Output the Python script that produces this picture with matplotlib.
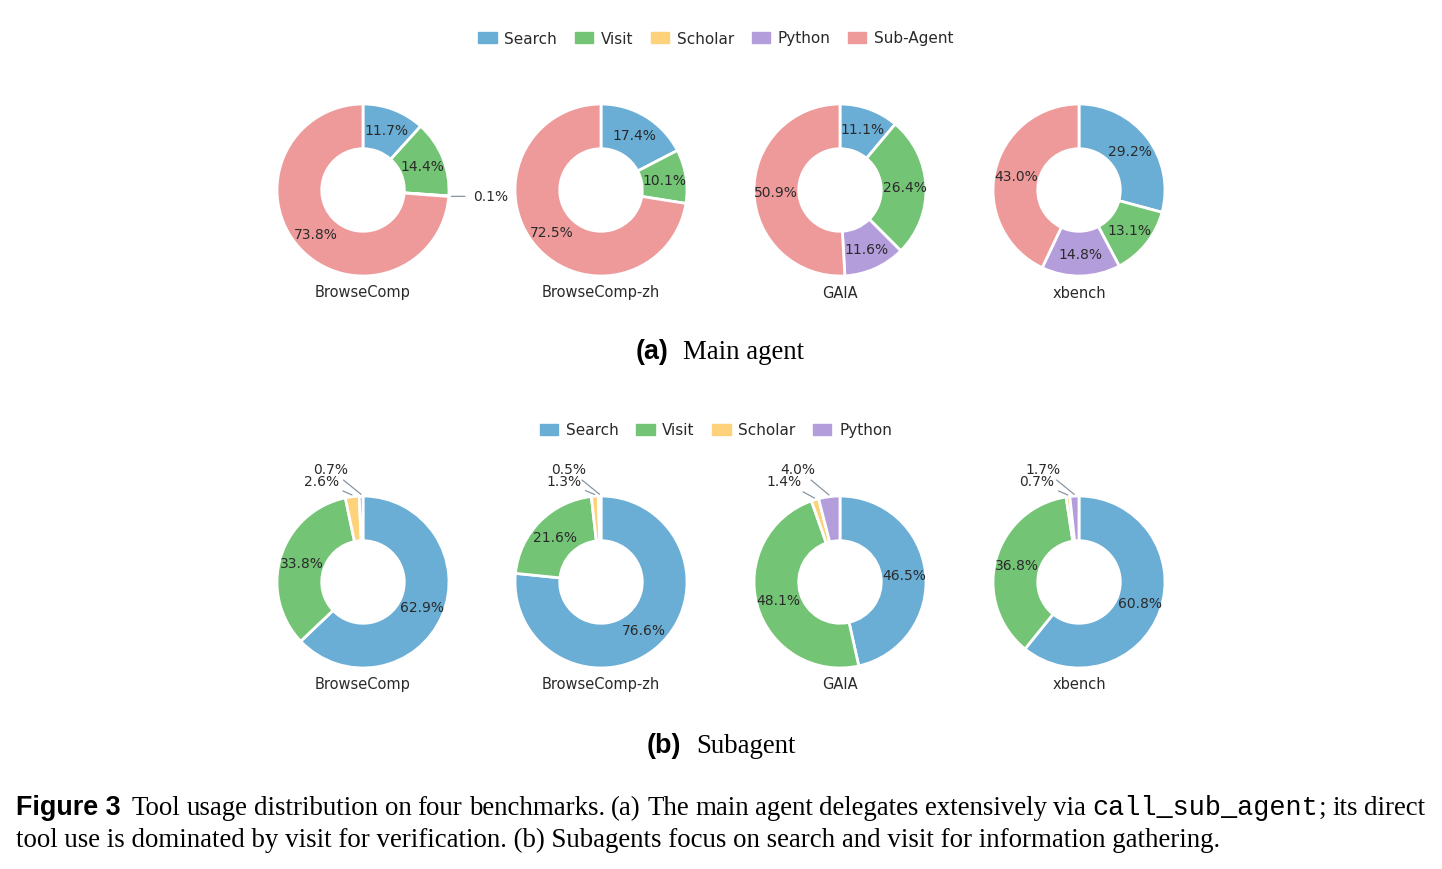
import numpy as np
import matplotlib
matplotlib.use("Agg")
import matplotlib.pyplot as plt
from matplotlib.patches import Patch

W, H = 1442, 870

tools_main = ["Search", "Visit", "Scholar", "Python", "Sub-Agent"]
tools_sub = ["Search", "Visit", "Scholar", "Python"]
colors = {"Search": "#6aaed6", "Visit": "#74c476", "Scholar": "#fdd27b",
          "Python": "#b49ddb", "Sub-Agent": "#ee9a9a"}
benchmarks = ["BrowseComp", "BrowseComp-zh", "GAIA", "xbench"]

# percentages, order = tools list
main_share = {
    "BrowseComp":    [11.7, 14.4, 0.1, 0.0, 73.8],
    "BrowseComp-zh": [17.4, 10.1, 0.0, 0.0, 72.5],
    "GAIA":          [11.1, 26.4, 0.0, 11.6, 50.9],
    "xbench":        [29.2, 13.1, 0.0, 14.8, 43.0],
}
sub_share = {
    "BrowseComp":    [62.9, 33.8, 2.6, 0.7],
    "BrowseComp-zh": [76.6, 21.6, 1.3, 0.5],
    "GAIA":          [46.5, 48.1, 1.4, 4.0],
    "xbench":        [60.8, 36.8, 0.7, 1.7],
}

fig = plt.figure(figsize=(W / 100, H / 100), dpi=100)
txt = "#2a2a2a"
line_c = "#8796a3"


def fx(x):
    return x / W


def fy(y):
    return 1 - y / H


def donut(cx, cy, vals, names):
    R = 86  # px for radius 1
    L = 1.5
    ax = fig.add_axes([fx(cx - R * L), fy(cy + R * L), 2 * R * L / W, 2 * R * L / H])
    keep = [(v, n) for v, n in zip(vals, names) if v > 0]
    v = [k[0] for k in keep]
    n = [k[1] for k in keep]
    wedges, _ = ax.pie(v, colors=[colors[c] for c in n], startangle=90,
                       counterclock=False, radius=1,
                       wedgeprops=dict(width=0.52, edgecolor="white", linewidth=2))
    ax.set_xlim(-L, L)
    ax.set_ylim(-L, L)
    ax.axis("off")
    total = sum(v)
    k = 0
    for w, val in zip(wedges, v):
        ang = np.deg2rad((w.theta1 + w.theta2) / 2)
        x, y = np.cos(ang), np.sin(ang)
        lab = "%.1f%%" % (val / total * 100)
        if val >= 5:
            ax.text(0.75 * x, 0.75 * y, lab, ha="center", va="center",
                    fontsize=10, color=txt)
        elif x > 0.5:
            ax.annotate(lab, xy=(1.03 * x, 1.03 * y), xytext=(1.49 * x, y),
                        ha="center", va="center", fontsize=10, color=txt,
                        arrowprops=dict(arrowstyle="-", color=line_c, lw=0.9,
                                        shrinkA=4, shrinkB=0))
        else:
            ax.annotate(lab, xy=(1.02 * x, 1.02 * y), xytext=(x - 0.36, 1.17 + 0.14 * k),
                        ha="center", va="center", fontsize=10, color=txt,
                        arrowprops=dict(arrowstyle="-", color=line_c, lw=0.9,
                                        shrinkA=1, shrinkB=0))
            k += 1
    return ax


xs = [363, 601, 840, 1079]
for i, b in enumerate(benchmarks):
    donut(xs[i], 191, main_share[b], tools_main)
    fig.text(fx(xs[i]), fy(293), b, ha="center", va="center", fontsize=10.5, color=txt)
    donut(xs[i], 583, sub_share[b], tools_sub)
    fig.text(fx(xs[i]), fy(685), b, ha="center", va="center", fontsize=10.5, color=txt)

for names, y in [(tools_main, 38), (tools_sub, 430)]:
    leg = fig.legend(handles=[Patch(color=colors[c], label=c) for c in names],
                     loc="center", bbox_to_anchor=(fx(716), fy(y + 1)), ncol=len(names),
                     frameon=False, fontsize=11, handlelength=1.2, handleheight=0.75,
                     handletextpad=0.5, columnspacing=1.15)
    for t in leg.get_texts():
        t.set_color(txt)

# captions
r = fig.canvas.get_renderer()
serif = dict(family="Liberation Serif", size=19.4, color="black")
bold = dict(family="Liberation Sans", weight="bold", size=19.4, color="black")
mono = dict(family=["Courier New", "Liberation Mono"], size=19.4, color="black")


def put(x, y, s, props):
    t = fig.text(fx(x), fy(y), s, ha="left", va="baseline", **props)
    return t.get_window_extent(r).width


for tag, label, x0, x1, y in [("(a)", "Main agent", 636, 683, 359),
                              ("(b)", "Subagent", 647, 696, 753)]:
    put(x0, y, tag, bold)
    put(x1, y, label, serif)

put(16, 815, "Figure 3", bold)
words = ["Tool", "usage", "distribution", "on", "four", "benchmarks.", "(a)", "The",
         "main", "agent", "delegates", "extensively", "via",
         [("call_sub_agent", mono), (";", serif)], "its", "direct"]


def tok_width(tok):
    parts = tok if isinstance(tok, list) else [(tok, serif)]
    tot = 0
    for s, p in parts:
        t = fig.text(0, 0, s, **p)
        tot += t.get_window_extent(r).width
        t.remove()
    return tot


x_start, x_end = 132, 1425
widths = [tok_width(t) for t in words]
gap = (x_end - x_start - sum(widths)) / (len(words) - 1)
x = x_start
for tok, wdt in zip(words, widths):
    parts = tok if isinstance(tok, list) else [(tok, serif)]
    xx = x
    for s, p in parts:
        xx += put(xx, 815, s, p)
    x += wdt + gap

put(16, 847, "tool use is dominated by visit for verification. (b) Subagents focus on "
    "search and visit for information gathering.", serif)

fig.savefig("out.png", dpi=100)
